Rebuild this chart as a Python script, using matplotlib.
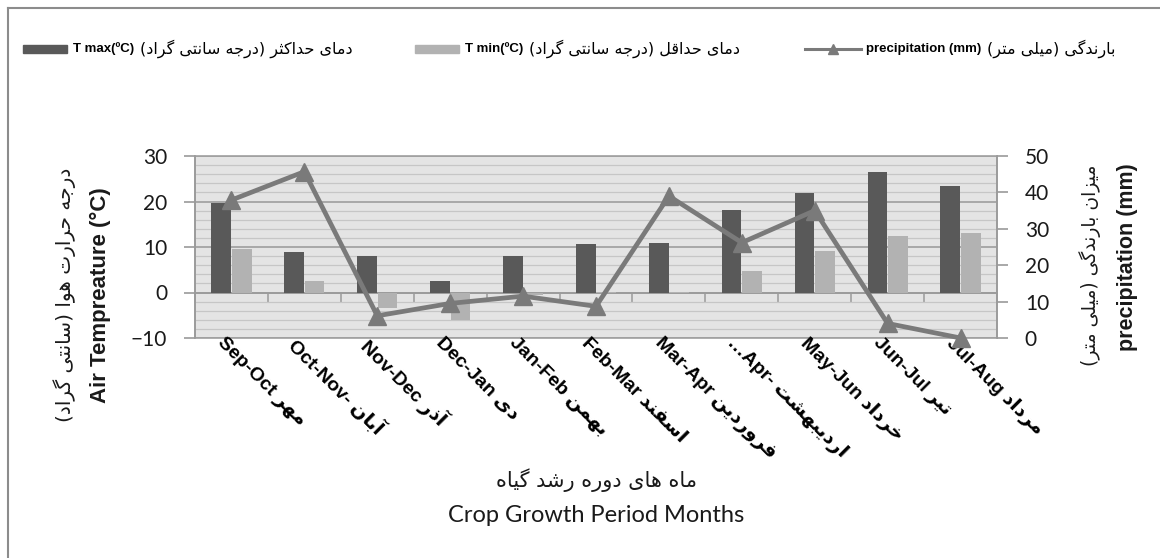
import numpy as np
import matplotlib
matplotlib.use("Agg")
import matplotlib.pyplot as plt
from matplotlib import font_manager
from matplotlib.ft2font import FT2Font
from matplotlib.patches import Rectangle
from matplotlib.lines import Line2D
from matplotlib.offsetbox import (HPacker, TextArea, DrawingArea,
                                  AnchoredOffsetbox)
import matplotlib.transforms as mtransforms

# ---------------- data ----------------
months_en = ["Sep-Oct", "Oct-Nov-", "Nov-Dec", "Dec-Jan", "Jan-Feb", "Feb-Mar",
             "Mar-Apr", "\u2026Apr-", "May-Jun", "Jun-Jul", "Jul-Aug"]
months_fa = ["مهر", "آبان", "آذر", "دی", "بهمن", "اسفند",
             "فروردین", "اردیبهشت", "خرداد", "تیر", "مرداد"]
t_max = [19.6, 9.0, 8.0, 2.6, 8.0, 10.6, 10.8, 18.1, 21.9, 26.5, 23.3]
t_min = [9.5, 2.6, -3.5, -6.0, -0.5, 0.1, 0.2, 4.8, 9.1, 12.5, 13.1]
precip = [37.9, 45.7, 6.1, 9.5, 11.5, 8.7, 39.0, 26.2, 35.0, 4.0, 0.0]
left_ticks = [-10, 0, 10, 20, 30]
right_ticks = [0, 10, 20, 30, 40, 50]

# ---------------- Persian shaping (presentation forms, visual order) ----
def _four(base):
    return tuple(chr(base + k) for k in range(4))

def _two(base):
    return (chr(base), chr(base + 1))

FORMS = {
    'آ': _two(0xFE81), 'ا': _two(0xFE8D), 'ب': _four(0xFE8F),
    'ت': _four(0xFE95), 'ث': _four(0xFE99), 'ج': _four(0xFE9D),
    'ح': _four(0xFEA1), 'خ': _four(0xFEA5), 'د': _two(0xFEA9),
    'ذ': _two(0xFEAB), 'ر': _two(0xFEAD), 'ز': _two(0xFEAF),
    'س': _four(0xFEB1), 'ش': _four(0xFEB5), 'ص': _four(0xFEB9),
    'ض': _four(0xFEBD), 'ط': _four(0xFEC1), 'ظ': _four(0xFEC5),
    'ع': _four(0xFEC9), 'غ': _four(0xFECD), 'ف': _four(0xFED1),
    'ق': _four(0xFED5), 'ك': _four(0xFED9), 'ل': _four(0xFEDD),
    'م': _four(0xFEE1), 'ن': _four(0xFEE5), 'ه': _four(0xFEE9),
    'و': _two(0xFEED), 'ي': _four(0xFEF1),
    'ی': _four(0xFBFC), 'ک': _four(0xFB8E), 'گ': _four(0xFB92),
    'پ': _four(0xFB56), 'ژ': _two(0xFB8A),
}
FALLBACK = {
    'ی': ('\uFEEF', '\uFEF0', '\uFEF3', '\uFEF4'),
    'ک': _four(0xFED9), 'گ': _four(0xFED9), 'پ': _four(0xFE8F),
    'ژ': _two(0xFEAF),
}
try:
    _cmaps = []
    for w in ("normal", "bold"):
        p = font_manager.findfont(font_manager.FontProperties(family="DejaVu Sans", weight=w))
        _cmaps.append(set(FT2Font(p).get_charmap().keys()))
    for ch, forms in list(FORMS.items()):
        if any(ord(g) not in cm for g in forms for cm in _cmaps):
            if ch in FALLBACK:
                FORMS[ch] = FALLBACK[ch]
except Exception:
    pass


def fa(s):
    out = []
    for i, ch in enumerate(s):
        if ch in FORMS:
            prev = s[i - 1] if i > 0 else ''
            nxt = s[i + 1] if i + 1 < len(s) else ''
            jp = prev in FORMS and len(FORMS[prev]) == 4
            jn = len(FORMS[ch]) == 4 and nxt in FORMS
            f = FORMS[ch]
            if jp and jn:
                g = f[3]
            elif jp:
                g = f[1]
            elif jn:
                g = f[2]
            else:
                g = f[0]
            out.append(g)
        else:
            out.append(ch)
    vis = ''.join(reversed(out))
    return vis.translate(str.maketrans('()', ')('))


EN = ['Liberation Sans', 'DejaVu Sans']
NUM = ['Lato', 'DejaVu Sans']
FAF = ['DejaVu Sans']

# ---------------- colours ----------------
c_max = '#595959'
c_min = '#b2b2b2'
c_line = '#7a7a7a'
c_axis = '#9a9a9a'
c_text = '#1a1a1a'

# ---------------- figure ----------------
fig = plt.figure(figsize=(11.6, 5.58), dpi=100)
fig.patch.set_facecolor('white')
W, H = 1160, 558
ax = fig.add_axes([195 / W, 1 - 338 / H, 802 / W, 182 / H])
ax.set_facecolor('#e4e4e4')

x = np.arange(len(months_en))
bw = 0.27
ax.bar(x - 0.14, t_max, bw, color=c_max, zorder=3)
ax.bar(x + 0.14, t_min, bw, color=c_min, zorder=3)

ax.set_xlim(-0.5, len(months_en) - 0.5)
ax.set_ylim(left_ticks[0], left_ticks[-1])
ax.set_yticks(left_ticks)
ax.set_yticks(np.arange(left_ticks[0], left_ticks[-1] + 1, 2), minor=True)
ax.yaxis.grid(True, which='minor', color='#c6c6c6', lw=0.9, zorder=0)
ax.yaxis.grid(True, which='major', color='#a3a3a3', lw=1.3, zorder=0)
ax.set_axisbelow(True)
ax.tick_params(axis='y', which='major', direction='out', length=8, width=1.2,
               color=c_axis, pad=12, labelsize=15, labelcolor=c_text)
ax.tick_params(axis='y', which='minor', length=0)
for lab in ax.get_yticklabels():
    lab.set_family(NUM)

# category axis at zero with boundary ticks
ax.spines['bottom'].set_position(('data', 0))
ax.spines['bottom'].set_color(c_axis)
ax.spines['bottom'].set_linewidth(1.2)
ax.set_xticks([])
ax.set_xticks(np.arange(-0.5, len(months_en), 1.0), minor=True)
ax.tick_params(axis='x', which='minor', direction='out', length=7, width=1.1,
               color=c_axis, labelbottom=False)
for s in ('top', 'right'):
    ax.spines[s].set_visible(False)
ax.spines['left'].set_color(c_axis)
ax.spines['left'].set_linewidth(1.2)
ax.add_patch(Rectangle((0, 0), 1, 1, transform=ax.transAxes, fill=False,
                       edgecolor='#a0a0a0', lw=1.2, zorder=1, clip_on=False))

# category labels
trans = mtransforms.blended_transform_factory(ax.transData, ax.transAxes)
trans = mtransforms.offset_copy(trans, fig=fig, x=-5, y=4, units='dots')
for i, (en, f) in enumerate(zip(months_en, months_fa)):
    ax.text(x[i], 0, en + ' ' + fa(f), transform=trans, rotation=-45,
            rotation_mode='anchor', ha='left', va='top', fontsize=14,
            fontweight='bold', family=EN, color='black', zorder=6)

# secondary axis
ax2 = ax.twinx()
ax2.set_ylim(right_ticks[0], right_ticks[-1])
ax2.set_yticks(right_ticks)
ax2.plot(x, precip, color=c_line, lw=3.4, marker='^', markersize=13,
         zorder=5, clip_on=False)
for s in ('top', 'left', 'bottom'):
    ax2.spines[s].set_visible(False)
ax2.spines['right'].set_color(c_axis)
ax2.spines['right'].set_linewidth(1.2)
ax2.tick_params(axis='y', direction='out', length=8, width=1.2, color=c_axis,
                pad=12, labelsize=15, labelcolor=c_text)
for lab in ax2.get_yticklabels():
    lab.set_family(NUM)

# axis titles
fig.text(65 / W, 1 - 295 / H, fa('درجه حرارت هوا (سانتی گراد)'), rotation=90,
         ha='center', va='center', fontsize=14.5, family=FAF, color=c_text)
fig.text(100 / W, 1 - 295 / H, 'Air Tempreature (\u00b0C)', rotation=90,
         ha='center', va='center', fontsize=16, fontweight='bold', family=EN,
         color=c_text)
fig.text(1090 / W, 1 - 265 / H, fa('میزان بارندگی (میلی متر)'), rotation=90,
         ha='center', va='center', fontsize=13.5, family=FAF, color=c_text)
fig.text(1128 / W, 1 - 257 / H, 'precipitation (mm)', rotation=90,
         ha='center', va='center', fontsize=15.5, fontweight='bold', family=EN,
         color=c_text)
fig.text(597 / W, 1 - 480 / H, fa('ماه های دوره رشد گیاه'), ha='center',
         va='center', fontsize=15, family=FAF, color=c_text)
fig.text(596 / W, 1 - 515 / H, 'Crop Growth Period Months', ha='center',
         va='center', fontsize=17, family=NUM, color=c_text)

# legend (three entries, each auto-packed)
def swatch(color):
    da = DrawingArea(32, 9, 0, 0)
    da.add_artist(Rectangle((0, 1.5), 32, 6, color=color))
    return da

def line_handle():
    da = DrawingArea(40, 9, 0, 0)
    da.add_artist(Line2D([0, 40], [4.5, 4.5], color=c_line, lw=2.2))
    da.add_artist(Line2D([20], [4.5], color=c_line, marker='^', markersize=7,
                         lw=0))
    return da

def entry(handle, en, fatxt):
    return HPacker(children=[
        handle,
        TextArea(en, textprops=dict(fontsize=9.5, fontweight='bold', family=EN,
                                    color='black')),
        TextArea(fa(fatxt), textprops=dict(fontsize=11.5, family=FAF,
                                           color='black')),
    ], sep=4, align='center', pad=0)

legend_items = [
    (swatch(c_max), 'T max(\u00baC)', 'دمای حداکثر (درجه سانتی گراد)', 23),
    (swatch(c_min), 'T min(\u00baC)', 'دمای حداقل (درجه سانتی گراد)', 415),
    (line_handle(), 'precipitation (mm)', 'بارندگی (میلی متر)', 805),
]
for h, en, ft, xpos in legend_items:
    fig.add_artist(AnchoredOffsetbox(loc='center left', child=entry(h, en, ft),
                                     pad=0, borderpad=0, frameon=False,
                                     bbox_to_anchor=(xpos / W, 1 - 49 / H),
                                     bbox_transform=fig.transFigure))

# outer frame (top and left edges visible)
fig.add_artist(Line2D([8 / W, 8 / W], [0, 1 - 8 / H], transform=fig.transFigure,
                      color='#8c8c8c', lw=1.5))
fig.add_artist(Line2D([8 / W, 1], [1 - 8 / H, 1 - 8 / H],
                      transform=fig.transFigure, color='#8c8c8c', lw=1.5))

fig.savefig('out.png', dpi=100)
